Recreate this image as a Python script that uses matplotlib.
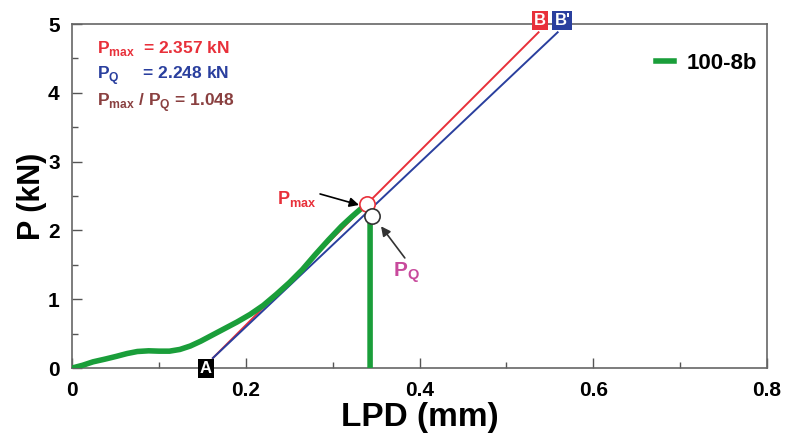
import matplotlib.pyplot as plt

plt.rcParams['font.family'] = ['Liberation Sans', 'DejaVu Sans']
plt.rcParams['font.weight'] = 'bold'
plt.rcParams['mathtext.fontset'] = 'custom'
plt.rcParams['mathtext.bf'] = 'Liberation Sans:bold'
plt.rcParams['mathtext.rm'] = 'Liberation Sans:bold'

# load-displacement curve (100-8b)
lpd = [0, 0.012, 0.024, 0.038, 0.051, 0.063, 0.075, 0.088, 0.1, 0.112,
       0.124, 0.136, 0.148, 0.16, 0.175, 0.19, 0.205, 0.22, 0.235, 0.25,
       0.265, 0.28, 0.295, 0.31, 0.322, 0.332, 0.339, 0.343, 0.343]
load = [0, 0.04, 0.09, 0.13, 0.17, 0.21, 0.24, 0.25, 0.245, 0.245,
        0.27, 0.32, 0.39, 0.47, 0.57, 0.67, 0.78, 0.91, 1.07, 1.24,
        1.43, 1.65, 1.86, 2.06, 2.2, 2.31, 2.357, 2.2, 0.0]

line_start = (0.162, 0.145)
line_end_b = (0.537, 4.88)
line_end_b2 = (0.559, 4.88)
pt_max = (0.339, 2.38)
pt_q = (0.3456, 2.21)

fig, ax = plt.subplots(figsize=(7.85, 4.45), dpi=100)
fig.subplots_adjust(left=0.092, right=0.977, bottom=0.173, top=0.946)

ax.plot(lpd, load, color='#1a9e3a', lw=4, label='100-8b', zorder=3,
        solid_joinstyle='round')
ax.plot([line_start[0], line_end_b[0]], [line_start[1], line_end_b[1]],
        color='#e8303a', lw=1.4, zorder=2, clip_on=False)
ax.plot([line_start[0], line_end_b2[0]], [line_start[1], line_end_b2[1]],
        color='#2a3f9e', lw=1.4, zorder=2, clip_on=False)

ax.plot(*pt_max, 'o', ms=11, mfc='white', mec='#e8303a', mew=1.2, zorder=6)
ax.plot(*pt_q, 'o', ms=11, mfc='white', mec='#333333', mew=1.2, zorder=6)

box = dict(boxstyle='square,pad=0.12', lw=0)
ax.text(0.154, 0.0, 'A', color='white', fontsize=12, ha='center', va='center',
        bbox=dict(box, fc='black'), zorder=7, clip_on=False)
ax.text(0.5385, 5.05, 'B', color='white', fontsize=12, ha='center', va='center',
        bbox=dict(box, fc='#e8303a'), zorder=7, clip_on=False)
ax.text(0.5645, 5.05, "B'", color='white', fontsize=12, ha='center', va='center',
        bbox=dict(box, fc='#2a3f9e'), zorder=7, clip_on=False)

arrow = dict(arrowstyle='-|>', color='black', lw=1.2, mutation_scale=14,
             shrinkA=0, shrinkB=0)
ax.annotate('', xy=(0.3303, 2.37), xytext=(0.2854, 2.53), arrowprops=arrow)
ax.text(0.259, 2.45, r'P$_{\mathbf{max}}$', color='#e8303a', fontsize=13,
        ha='center', va='center')
ax.annotate('', xy=(0.3556, 2.06), xytext=(0.383, 1.60),
            arrowprops=dict(arrow, color='#333333'))
ax.text(0.385, 1.38, r'P$_{\mathbf{Q}}$', color='#c84a9c', fontsize=15,
        ha='center', va='center')

ax.text(0.028, 4.64, r'P$_{\mathbf{max}}$  = 2.357 kN', color='#e8303a', fontsize=12.5, va='center')
ax.text(0.028, 4.25, r'P$_{\mathbf{Q}}$     = 2.248 kN', color='#2a3f9e', fontsize=12.5, va='center')
ax.text(0.028, 3.86, r'P$_{\mathbf{max}}$ / P$_{\mathbf{Q}}$ = 1.048', color='#8a4040',
        fontsize=12.5, va='center')

ax.set_xlim(0, 0.8)
ax.set_ylim(0, 5)
ax.set_xticks([0, 0.2, 0.4, 0.6, 0.8])
ax.set_xticklabels(['0', '0.2', '0.4', '0.6', '0.8'])
ax.set_xticks([0.1, 0.3, 0.5, 0.7], minor=True)
ax.set_yticks([0, 1, 2, 3, 4, 5])
ax.set_yticks([0.5, 1.5, 2.5, 3.5, 4.5], minor=True)
ax.tick_params(which='both', direction='in', labelsize=15, width=1.0, color='#555555')
ax.tick_params(which='major', length=7, pad=9)
ax.tick_params(which='minor', length=4)
for lab in ax.get_xticklabels() + ax.get_yticklabels():
    lab.set_fontweight('bold')
for s in ax.spines.values():
    s.set_color('#666666')
    s.set_linewidth(1.2)

ax.set_xlabel('LPD (mm)', fontsize=24, fontweight='bold', labelpad=2)
ax.set_ylabel('P (kN)', fontsize=22, fontweight='bold', labelpad=1)

leg = ax.legend(loc='upper right', frameon=False, fontsize=16, handlelength=0.8,
                handletextpad=0.6, bbox_to_anchor=(1.015, 0.975))
for t in leg.get_texts():
    t.set_fontweight('bold')

fig.savefig('out.png', dpi=100)
